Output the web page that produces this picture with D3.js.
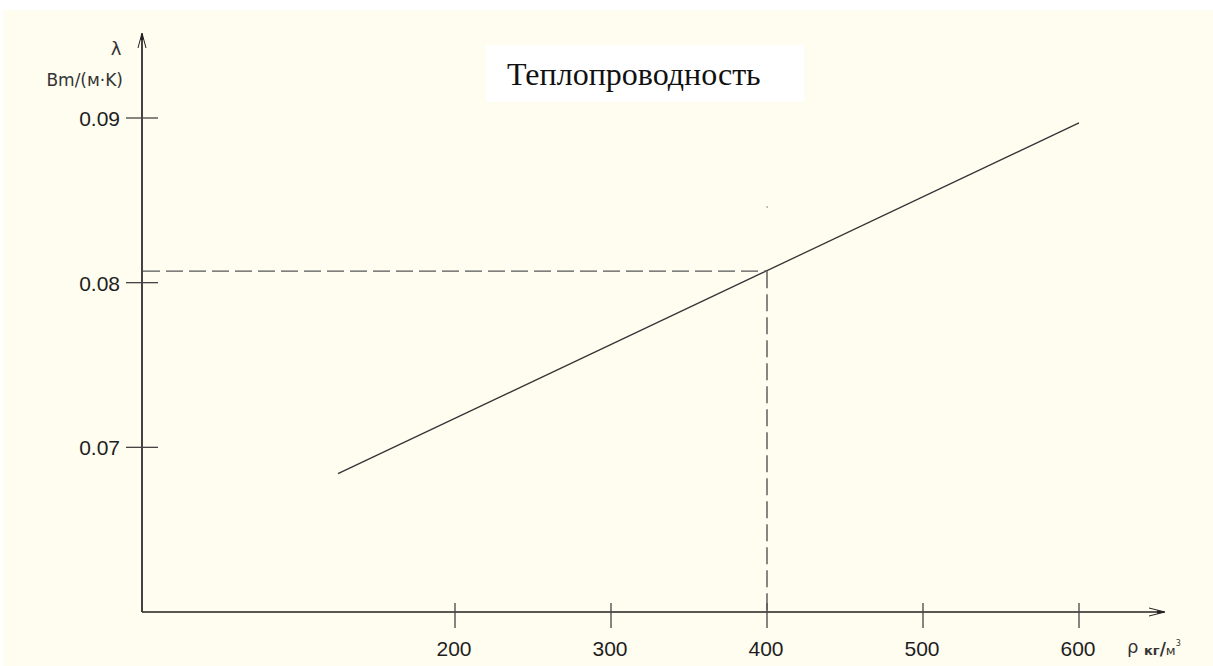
<!DOCTYPE html>
<html>
<head>
<meta charset="utf-8">
<script src="https://cdn.jsdelivr.net/npm/d3@7"></script>
<style>
  html, body { margin: 0; padding: 0; background: #fff; }
  svg { display: block; }
  .tick-label { font-family: "Liberation Sans", Arial, sans-serif; font-size: 21px; fill: #1e1e1e; }
</style>
</head>
<body>
<svg id="chart" width="1213" height="666"></svg>
<script>
// Thermal conductivity vs density
const TITLE = 'Теплопроводность';
const Y_LABEL = 'λ';
const Y_UNIT = 'Bm/(м·K)';
const X_LABEL = 'ρ';
const X_UNIT = 'кг/м';

const X_TICKS = [200, 300, 400, 500, 600];
const Y_TICKS = [0.07, 0.08, 0.09];

// straight line: density -> conductivity
const lineX = [125, 600];
const lineY = [0.0684, 0.0897];

// reading at 400 kg/m3
const markX = 400;
const markY = 0.0807;

const svg = d3.select('#chart');

// cream drawing sheet
svg.append('rect')
  .attr('x', 3).attr('y', 10)
  .attr('width', 1210).attr('height', 656)
  .attr('fill', '#fffcf0');

const x = d3.scaleLinear().domain([0, 600]).range([143, 1079]);
const y = d3.scaleLinear().domain([0.06, 0.09]).range([612, 118]);

const x0 = 142, yBase = y(0.06);
const ink = '#222';

// axes
svg.append('line')
  .attr('x1', x0).attr('y1', yBase).attr('x2', x0).attr('y2', 34)
  .attr('stroke', ink).attr('stroke-width', 1.7);
svg.append('line')
  .attr('x1', x0).attr('y1', yBase).attr('x2', 1164).attr('y2', yBase)
  .attr('stroke', ink).attr('stroke-width', 1.7);

// arrow heads (open chevron + small filled tip)
svg.append('path')
  .attr('d', `M${x0 - 4},48 L${x0},33 L${x0 + 4},48`)
  .attr('fill', 'none').attr('stroke', ink).attr('stroke-width', 1);
svg.append('path')
  .attr('d', `M${x0 - 1.5},40 L${x0},33 L${x0 + 1.5},40 Z`)
  .attr('fill', ink);
svg.append('path')
  .attr('d', `M1149,${yBase - 4} L1165,${yBase} L1149,${yBase + 4}`)
  .attr('fill', 'none').attr('stroke', ink).attr('stroke-width', 1);
svg.append('path')
  .attr('d', `M1157,${yBase - 1.7} L1165,${yBase} L1157,${yBase + 1.7} Z`)
  .attr('fill', ink);

// y ticks
const yt = svg.append('g');
Y_TICKS.forEach(v => {
  yt.append('line')
    .attr('x1', x0 - 16).attr('x2', x0 + 16)
    .attr('y1', y(v)).attr('y2', y(v))
    .attr('stroke', '#444').attr('stroke-width', 1.3);
  yt.append('text')
    .attr('class', 'tick-label')
    .attr('x', 120).attr('y', y(v) + 8)
    .attr('text-anchor', 'end')
    .text(d3.format('.2f')(v));
});

// x ticks
const xt = svg.append('g');
X_TICKS.forEach(v => {
  xt.append('line')
    .attr('x1', x(v)).attr('x2', x(v))
    .attr('y1', yBase - 9).attr('y2', yBase + 16)
    .attr('stroke', '#444').attr('stroke-width', 1.3);
  xt.append('text')
    .attr('class', 'tick-label')
    .attr('x', x(v) - 1).attr('y', yBase + 44)
    .attr('text-anchor', 'middle')
    .text(v);
});

// data line
svg.append('line')
  .attr('x1', x(lineX[0])).attr('y1', y(lineY[0]))
  .attr('x2', x(lineX[1])).attr('y2', y(lineY[1]))
  .attr('stroke', '#333').attr('stroke-width', 1.3);

// dashed guides
svg.append('line')
  .attr('x1', x0 + 1).attr('y1', y(markY))
  .attr('x2', x(markX)).attr('y2', y(markY))
  .attr('stroke', '#555').attr('stroke-width', 1.4)
  .attr('stroke-dasharray', '17,6');
svg.append('line')
  .attr('x1', x(markX)).attr('y1', y(markY))
  .attr('x2', x(markX)).attr('y2', yBase)
  .attr('stroke', '#555').attr('stroke-width', 1.4)
  .attr('stroke-dasharray', '17,6');

// stray point above the reading
svg.append('rect')
  .attr('x', x(markX) - 0.5).attr('y', y(0.0846) - 0.5)
  .attr('width', 1.2).attr('height', 1.2)
  .attr('fill', '#666');

// axis labels
svg.append('text')
  .attr('x', 116).attr('y', 55)
  .attr('text-anchor', 'middle')
  .attr('font-family', '"DejaVu Sans", sans-serif')
  .attr('font-size', 18).attr('fill', '#333')
  .text(Y_LABEL);
svg.append('text')
  .attr('x', 123).attr('y', 86)
  .attr('text-anchor', 'end')
  .attr('font-family', '"DejaVu Sans", sans-serif')
  .attr('font-size', 17).attr('fill', '#333')
  .text(Y_UNIT);

svg.append('text')
  .attr('x', 1127).attr('y', 653)
  .attr('font-family', '"DejaVu Sans", sans-serif')
  .attr('font-size', 18).attr('fill', '#333')
  .text(X_LABEL);
const xu = svg.append('text')
  .attr('x', 1144).attr('y', 655)
  .attr('font-family', '"DejaVu Sans", sans-serif')
  .attr('font-size', 13).attr('fill', '#333');
xu.append('tspan').attr('font-weight', 'bold').text('кг');
xu.append('tspan').attr('font-weight', 'bold').attr('font-size', 17).text('/');
xu.append('tspan').text(X_UNIT.slice(3));
xu.append('tspan').attr('font-size', 8).attr('dy', -9).text('3');

// title box
svg.append('rect')
  .attr('x', 486).attr('y', 45)
  .attr('width', 318).attr('height', 57)
  .attr('fill', '#fff');
svg.append('text')
  .attr('x', 507).attr('y', 85)
  .attr('font-family', '"Liberation Serif", "Times New Roman", serif')
  .attr('font-size', 32).attr('fill', '#111')
  .text(TITLE);
</script>
</body>
</html>
